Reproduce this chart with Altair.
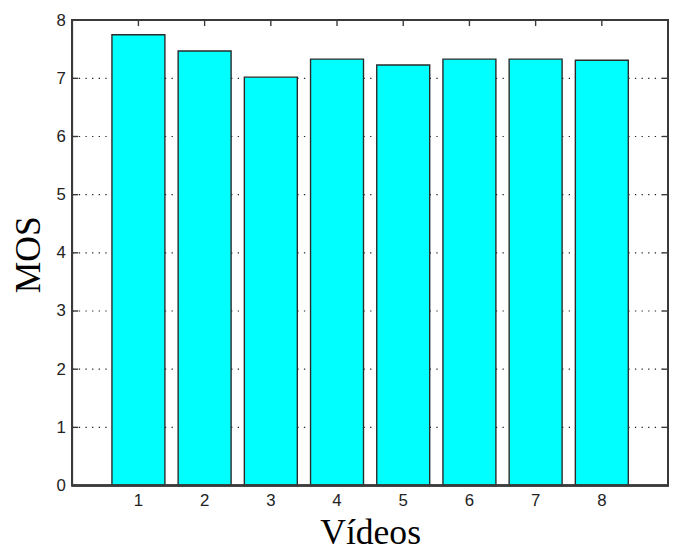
import altair as alt
import pandas as pd

videos = [1, 2, 3, 4, 5, 6, 7, 8]
mos = [7.75, 7.47, 7.02, 7.33, 7.23, 7.33, 7.33, 7.31]
y_ticks = [0, 1, 2, 3, 4, 5, 6, 7, 8]
grid_vals = [1, 2, 3, 4, 5, 6, 7]

W, H = 603, 471
FRAME = "#3a3a3a"

bars_df = pd.DataFrame({"video": videos, "mos": mos})
yt_df = pd.DataFrame({"v": y_ticks})
grid_df = pd.DataFrame({"v": grid_vals})
xt_df = pd.DataFrame({"video": videos})

xscale = alt.Scale(paddingInner=0.2, paddingOuter=0.6)
yscale = alt.Scale(domain=[0, 8], nice=False, zero=True)

x_axis = alt.Axis(
    title="Vídeos", labelAngle=0, ticks=False, domain=False, grid=False,
    labelFont="Liberation Sans", labelFontSize=17, labelColor="#222222",
    labelPadding=7, titleFont="Liberation Serif", titleFontSize=36,
    titleFontWeight="normal", titleColor="#000000", titleBaseline="alphabetic",
    titleY=59,
)
y_axis = alt.Axis(
    title="MOS", values=y_ticks, format="d", ticks=False, domain=False, grid=False,
    labelFont="Liberation Sans", labelFontSize=17, labelColor="#222222",
    labelPadding=7, titleFont="Liberation Serif", titleFontSize=36,
    titleFontWeight="normal", titleColor="#000000", titleAngle=-90,
    titleBaseline="middle", titleX=-44, titleY=237,
)

grid = alt.Chart(grid_df).mark_rule(
    color="#222222", strokeWidth=1.2, strokeDash=[1.3, 5.4]
).encode(
    y=alt.Y("v:Q", scale=yscale, axis=y_axis),
    x=alt.value(0), x2=alt.value(W),
)

bars = alt.Chart(bars_df).mark_bar(
    color="#00ffff", stroke="#2a2a2a", strokeWidth=1.4
).encode(
    x=alt.X("video:O", scale=xscale, axis=x_axis),
    y=alt.Y("mos:Q", scale=yscale),
)

left_ticks = alt.Chart(yt_df).mark_rule(color=FRAME, strokeWidth=1.4).encode(
    y=alt.Y("v:Q", scale=yscale), x=alt.value(0), x2=alt.value(6)
)
right_ticks = alt.Chart(yt_df).mark_rule(color=FRAME, strokeWidth=1.4).encode(
    y=alt.Y("v:Q", scale=yscale), x=alt.value(W - 6), x2=alt.value(W)
)
top_ticks = alt.Chart(xt_df).mark_rule(color=FRAME, strokeWidth=1.4).encode(
    x=alt.X("video:O", scale=xscale), y=alt.value(0), y2=alt.value(6)
)
frame = alt.Chart(xt_df).mark_rect(
    fill="transparent", stroke=FRAME, strokeWidth=1.6
).encode(
    x=alt.value(0), x2=alt.value(W), y=alt.value(0), y2=alt.value(H)
)

chart = alt.layer(grid, bars, left_ticks, right_ticks, top_ticks, frame).properties(
    width=W, height=H,
    autosize=alt.AutoSizeParams(type="none"),
    padding={"left": 65, "top": 9, "right": 2, "bottom": 66},
).configure(
    background="#ffffff",
    view={"stroke": "transparent"},
)

chart.save("out.html", embed_options={"renderer": "svg", "actions": False})
